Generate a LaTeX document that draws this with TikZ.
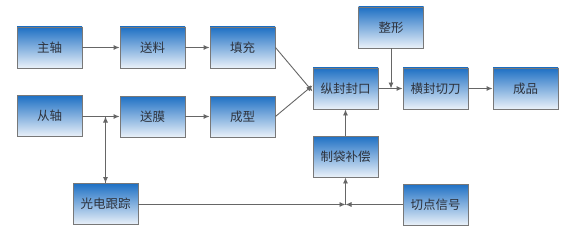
\documentclass[tikz,border=0pt]{standalone}
\usepackage{fontspec}
\newfontfamily\cjk{Noto Sans CJK SC}
\usetikzlibrary{arrows.meta}
\definecolor{boxtop}{RGB}{30,112,196}
\definecolor{boxbot}{RGB}{234,241,249}
\definecolor{edge}{RGB}{120,120,120}
\definecolor{txt}{RGB}{45,50,60}
\tikzset{
  box/.style={draw=edge, line width=0.9pt, top color=boxtop, bottom color=boxbot,
    minimum width=65pt, minimum height=41pt, inner sep=0pt, text=txt,
    font=\cjk\fontsize{12.5pt}{14pt}\selectfont},
  conn/.style={draw=edge!85!black, line width=0.9pt, -{Latex[length=6pt,width=5pt]}},
  plain/.style={draw=edge!85!black, line width=0.9pt}
}
\begin{document}
\begin{tikzpicture}[x=1pt,y=-1pt]
\useasboundingbox (0,0) rectangle (578,246);
\node[box] (zhu) at (49.5,47.5) {主轴};
\node[box] (song) at (152.5,47.5) {送料};
\node[box] (tian) at (242.5,47.5) {填充};
\node[box] (cong) at (49.5,116) {从轴};
\node[box] (mo) at (152.5,116.5) {送膜};
\node[box] (cx) at (242.5,116.5) {成型};
\node[box] (zf) at (345.5,88.5) {纵封封口};
\node[box] (zx) at (391,27.5) {整形};
\node[box] (hf) at (435.5,88.5) {横封切刀};
\node[box] (cp) at (525.5,88.5) {成品};
\node[box] (gd) at (105.5,204) {光电跟踪};
\node[box] (zd) at (345.5,156.5) {制袋补偿};
\node[box] (qd) at (435.5,204.5) {切点信号};
\coordinate (j1) at (105.5,116.5);
\coordinate (j2) at (391,88.5);
\coordinate (j3) at (345.5,204.5);
\draw[conn] (zhu) -- (song);
\draw[conn] (song) -- (tian);
\draw[conn] (cong.east |- mo) -- (mo);
\draw[conn] (mo) -- (cx);
\draw[conn] (tian.east) -- ([yshift=-3pt]zf.west);
\draw[conn] (cx.east) -- ([yshift=3pt]zf.west);
\draw[conn] (zf) -- (hf);
\draw[conn] (zx.south) -- (j2);
\draw[conn] (hf) -- (cp);
\draw[conn] (gd.north) -- (j1);
\draw[conn] (j1) -- (gd.north);
\draw[conn] (gd.east |- j3) -- (j3);
\draw[conn] (qd.west) -- (j3);
\draw[conn] (j3) -- (zd.south);
\draw[conn] (zd.north) -- (zf.south);
\end{tikzpicture}
\end{document}
